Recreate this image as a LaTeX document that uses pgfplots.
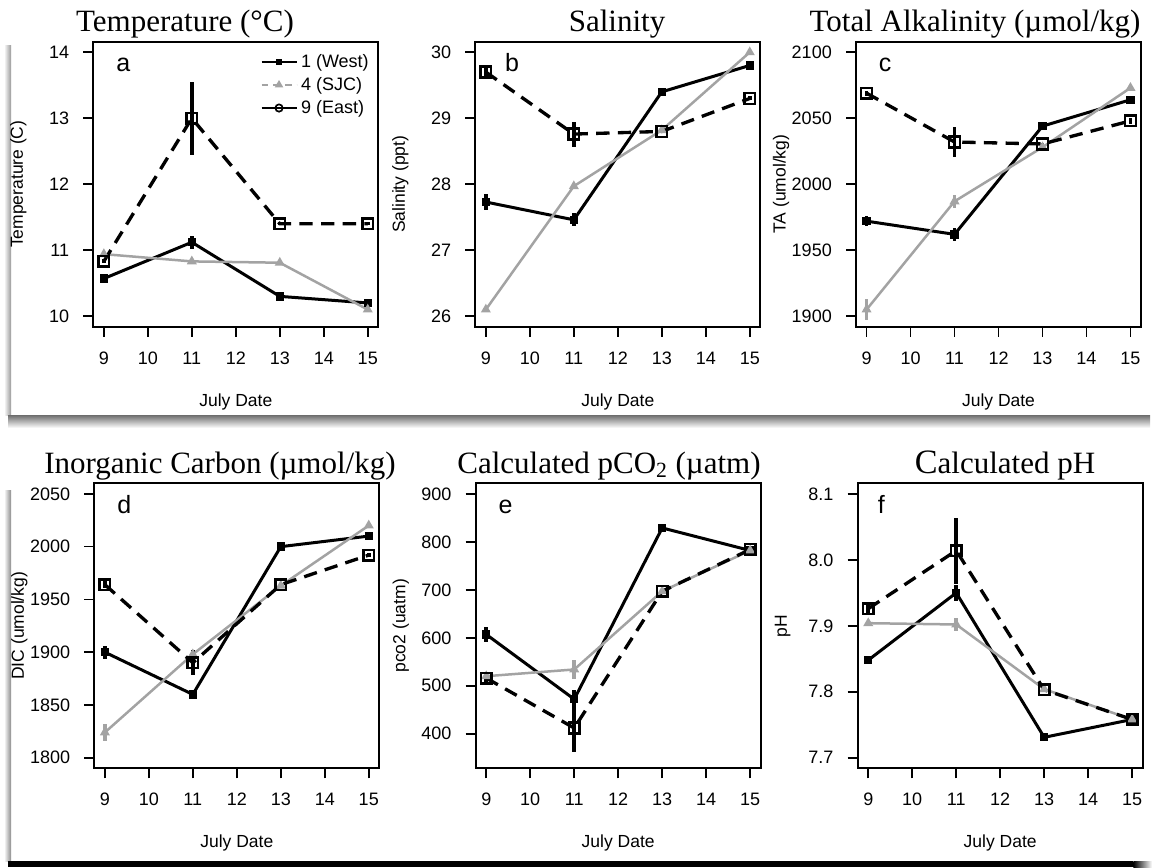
\documentclass[border=0pt]{standalone}
\usepackage{fontspec}
\setmainfont{Liberation Sans}
\newfontfamily\titlefont{Liberation Serif}
\usepackage{pgfplots}
\pgfplotsset{compat=1.18}
\definecolor{sjcgray}{gray}{0.64}
\pgfplotsset{
  panel/.style={
    scale only axis, width=171pt, height=171pt,
    xmin=8.76, xmax=15.24, xtick={9,10,...,15},
    axis line style={line width=1pt},
    tick style={line width=1pt, black},
    tick align=outside, major tick length=6pt,
    tick pos=left,
    ticklabel style={font=\fontsize{10.8}{12}\selectfont},
    yticklabel={\pgfmathprintnumber{\tick}\kern5pt},
    xticklabel style={yshift=-5.5pt},
    /pgf/number format/assume math mode=true,
    /pgf/number format/1000 sep={},
    scaled y ticks=false,
    xlabel={July Date},
    xlabel style={at={(axis description cs:0.5,-0.263)}, anchor=center, font=\fontsize{10.5}{12}\selectfont},
    ylabel style={at={(axis description cs:-0.263,0.5)}, anchor=center, font=\fontsize{10.5}{12}\selectfont},
    clip=false,
  },
  weststyle/.style={black, line width=1.8pt, mark=square*, mark size=1.6pt, mark options={solid},
    error bars/.cd, y dir=both, y explicit, error mark=none,
    error bar style={line width=2.2pt, black, solid}},
  sjcstyle/.style={sjcgray, line width=1.5pt, mark=triangle*, mark size=2pt, mark options={solid, sjcgray},
    error bars/.cd, y dir=both, y explicit, error mark=none,
    error bar style={line width=2.2pt, sjcgray, solid}},
  eaststyle/.style={black, line width=2pt, dash pattern=on 8pt off 5pt, mark=square, mark size=3.2pt,
    mark options={solid, line width=1.5pt},
    error bars/.cd, y dir=both, y explicit, error mark=none,
    error bar style={line width=2.2pt, black, solid}},
}
\newcommand\letter[2][0.06]{\node[anchor=base west, font=\fontsize{15}{15}\selectfont] at (axis description cs:#1,0.895) {#2};}
\begin{document}
\begin{tikzpicture}
\path[use as bounding box] (0pt,0pt) rectangle (691.2pt,-520.2pt);
% decorative card shadows
\shade[left color=white, right color=gray!80] (2.4pt,-27pt) rectangle (6.6pt,-249pt);
\shade[top color=gray!85!black, bottom color=white] (4.8pt,-249pt) rectangle (690pt,-256.8pt);
\shade[left color=white, right color=gray!90] (2.4pt,-294pt) rectangle (6.6pt,-516.6pt);
\fill[black] (4.8pt,-516.6pt) rectangle (680pt,-520.2pt);
\shade[left color=black, right color=white] (680pt,-516.6pt) rectangle (691.2pt,-520.2pt);
% titles
\node[anchor=base, font=\titlefont\fontsize{18.6}{20}\selectfont] at (111pt,-18.9pt) {Temperature (°C)};
\node[anchor=base, font=\titlefont\fontsize{18.6}{20}\selectfont] at (370.2pt,-18.9pt) {Salinity};
\node[anchor=base, font=\titlefont\fontsize{18.6}{20}\selectfont] at (585pt,-18.9pt) {Total Alkalinity (µmol/kg)};
\node[anchor=base, font=\titlefont\fontsize{18.6}{20}\selectfont] at (132pt,-283.8pt) {Inorganic Carbon (µmol/kg)};
\node[anchor=base, font=\titlefont\fontsize{18.6}{20}\selectfont] at (365.4pt,-283.8pt) {Calculated pCO\textsubscript{2} (µatm)};
\node[anchor=base, font=\titlefont\fontsize{18.6}{20}\selectfont] at (603pt,-283.8pt) {{\fontsize{20.5}{20}\selectfont C}alculated pH};

% ---------- a ----------
\begin{axis}[panel, at={(55.98pt,-196.02pt)}, anchor=south west,
  ymin=9.84, ymax=14.16, ytick={10,11,12,13,14}, ylabel={Temperature (C)},
  legend style={draw=none, fill=none, at={(axis description cs:0.985,0.975)}, anchor=north east,
    font=\fontsize{10.8}{12}\selectfont, row sep=0.5pt, inner sep=1pt},
  legend cell align=left,
  legend image code/.code={\draw[mark repeat=2, mark phase=2, #1] plot coordinates {(0pt,0pt) (10.5pt,0pt) (21pt,0pt)};}]
\addlegendimage{black, line width=1.4pt, mark=square*, mark size=1.3pt}
\addlegendimage{sjcgray, line width=1.2pt, dash pattern=on 4pt off 3pt, mark=triangle*, mark size=1.8pt, mark options={solid}}
\addlegendimage{black, line width=1.4pt, mark=o, mark size=2.2pt, mark options={line width=1pt}}
\legend{1 (West), 4 (SJC), 9 (East)}
\addplot[weststyle] coordinates {(9,10.57) +- (0,0.03) (11,11.12) +- (0,0.1) (13,10.30) +- (0,0.01) (15,10.20) +- (0,0.01)};
\addplot[sjcstyle] coordinates {(9,10.94) +- (0,0.03) (11,10.83) +- (0,0.03) (13,10.81) +- (0,0.01) (15,10.10) +- (0,0.02)};
\addplot[eaststyle] coordinates {(9,10.83) +- (0,0.03) (11,13.00) +- (0,0.55) (13,11.40) +- (0,0.02) (15,11.40) +- (0,0.02)};
\letter{a}
\end{axis}

% ---------- b ----------
\begin{axis}[panel, at={(285.18pt,-196.02pt)}, anchor=south west,
  ymin=25.84, ymax=30.16, ytick={26,27,28,29,30}, ylabel={Salinity (ppt)}]
\addplot[weststyle] coordinates {(9,27.73) +- (0,0.12) (11,27.46) +- (0,0.1) (13,29.40) +- (0,0.02) (15,29.80) +- (0,0.02)};
\addplot[sjcstyle] coordinates {(9,26.10) +- (0,0.02) (11,27.97) +- (0,0.03) (13,28.82) +- (0,0.02) (15,30.00) +- (0,0.02)};
\addplot[eaststyle] coordinates {(9,29.70) +- (0,0.08) (11,28.76) +- (0,0.19) (13,28.80) +- (0,0.03) (15,29.30) +- (0,0.03)};
\letter[0.084]{b}
\end{axis}

% ---------- c ----------
\begin{axis}[panel, at={(513.6pt,-196.02pt)}, anchor=south west,
  ymin=1892, ymax=2108, ytick={1900,1950,2000,2050,2100}, ylabel={TA (umol/kg)}]
\addplot[weststyle] coordinates {(9,1972) +- (0,4) (11,1962) +- (0,5) (13,2044) +- (0,1) (15,2064) +- (0,1)};
\addplot[sjcstyle] coordinates {(9,1905) +- (0,8) (11,1987) +- (0,5) (13,2028) +- (0,1) (15,2073) +- (0,1)};
\addplot[eaststyle] coordinates {(9,2069) +- (0,2) (11,2032) +- (0,11) (13,2030.5) +- (0,1) (15,2048) +- (0,2)};
\letter{c}
\end{axis}

% ---------- d ----------
\begin{axis}[panel, at={(56.58pt,-460.98pt)}, anchor=south west,
  ymin=1790, ymax=2060, ytick={1800,1850,1900,1950,2000,2050}, ylabel={DIC (umol/kg)}]
\addplot[weststyle] coordinates {(9,1900) +- (0,6) (11,1860) +- (0,1) (13,2000) +- (0,1) (15,2010) +- (0,1)};
\addplot[sjcstyle] coordinates {(9,1824) +- (0,8) (11,1898) +- (0,4) (13,1963) +- (0,1) (15,2020) +- (0,1)};
\addplot[eaststyle] coordinates {(9,1964) +- (0,3) (11,1890) +- (0,12) (13,1964) +- (0,2) (15,1992) +- (0,2)};
\letter{d}
\end{axis}

% ---------- e ----------
\begin{axis}[panel, at={(285.42pt,-460.98pt)}, anchor=south west,
  ymin=328, ymax=922, ytick={400,500,600,700,800,900}, ylabel={pco2 (uatm)}]
\addplot[weststyle] coordinates {(9,607) +- (0,15) (11,472) +- (0,20) (13,829) +- (0,2) (15,782) +- (0,3)};
\addplot[sjcstyle] coordinates {(9,520) +- (0,5) (11,534) +- (0,20) (13,697) +- (0,3) (15,782) +- (0,3)};
\addplot[eaststyle] coordinates {(9,516) +- (0,12) (11,412) +- (0,50) (13,697) +- (0,4) (15,784) +- (0,5)};
\letter{e}
\end{axis}

% ---------- f ----------
\begin{axis}[panel, at={(514.62pt,-460.98pt)}, anchor=south west,
  ymin=7.684, ymax=8.116, ytick={7.7,7.8,7.9,8.0,8.1}, ylabel={pH},
  yticklabel style={/pgf/number format/fixed, /pgf/number format/fixed zerofill, /pgf/number format/precision=1}]
\addplot[weststyle] coordinates {(9,7.848) +- (0,0.006) (11,7.950) +- (0,0.012) (13,7.731) +- (0,0.002) (15,7.758) +- (0,0.002)};
\addplot[sjcstyle] coordinates {(9,7.904) +- (0,0.004) (11,7.902) +- (0,0.01) (13,7.804) +- (0,0.002) (15,7.758) +- (0,0.002)};
\addplot[eaststyle] coordinates {(9,7.926) +- (0,0.01) (11,8.014) +- (0,0.05) (13,7.803) +- (0,0.003) (15,7.758) +- (0,0.003)};
\letter[0.05]{f}
\end{axis}
\end{tikzpicture}
\end{document}
